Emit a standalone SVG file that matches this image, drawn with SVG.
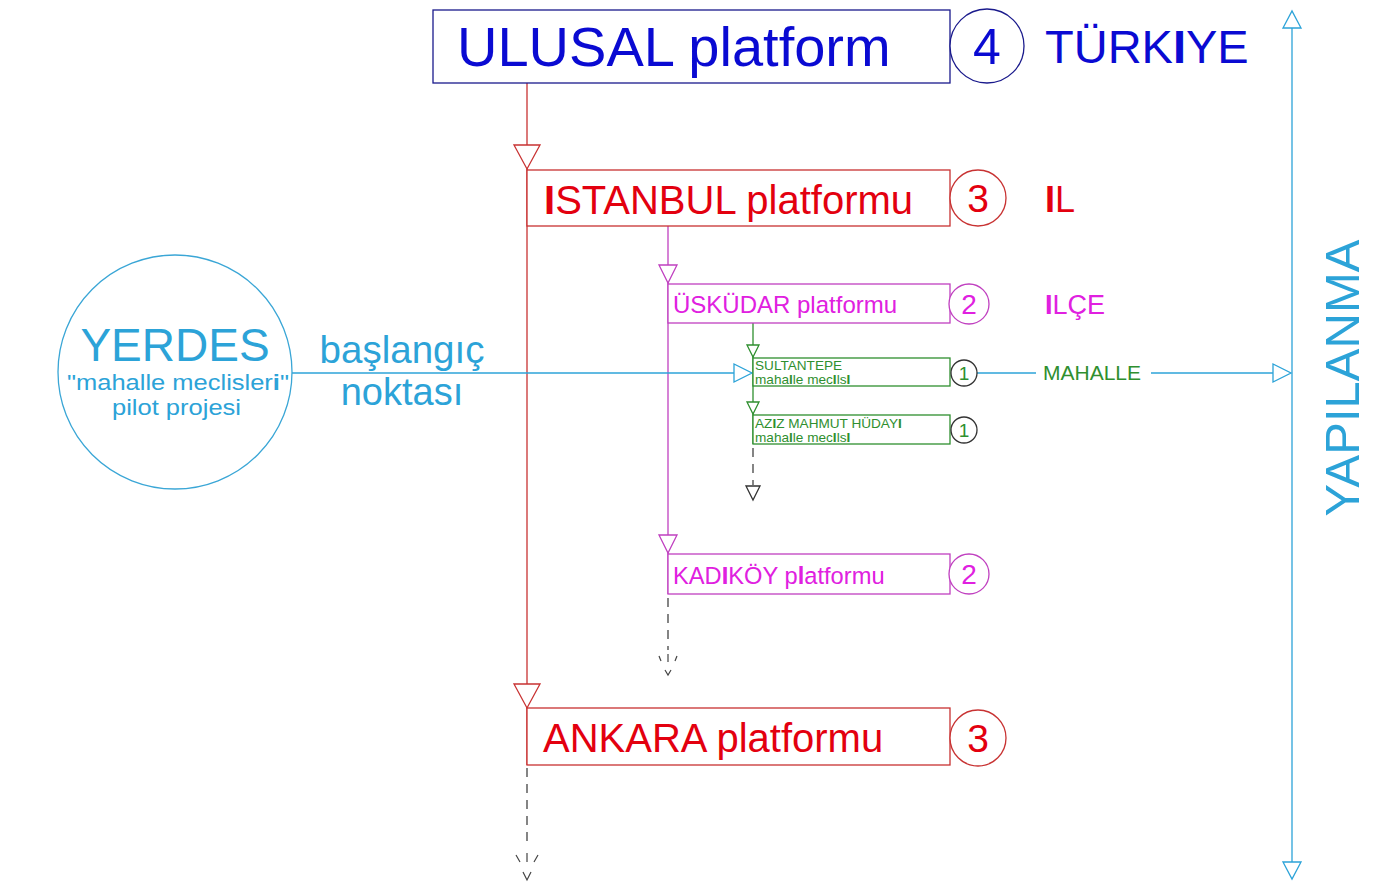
<svg xmlns="http://www.w3.org/2000/svg" width="1396" height="892" viewBox="0 0 1396 892">
<style>
text{font-family:"Liberation Sans",Arial,sans-serif}
.box{fill:#fff;stroke-width:1.3}
.cir{fill:#fff;stroke-width:1.3}
.blue{fill:#0a0ad2}
.red{fill:#e3000f}
.mag{fill:#e020e0}
.grn{fill:#2f8f2f}
.sky{fill:#2ca3d8}
.b{font-weight:bold}
.ln{fill:none;stroke-width:1.3}
.dash{fill:none;stroke:#444;stroke-width:1.3;stroke-dasharray:9 7}
.tri{fill:#fff;stroke-width:1.3}
</style>
<rect width="1396" height="892" fill="#fff"/>
<g id="connectors">
  <line class="ln" x1="527" y1="83" x2="527" y2="765" stroke="#c83232"/>
  <line class="dash" x1="527" y1="768" x2="527" y2="848"/>
  <path d="M516,855 L520,862 M538,855 L534,862 M527,853 L527,862" fill="none" stroke="#444" stroke-width="1.2"/>
  <path d="M523,872 L527,880 L531,872" fill="none" stroke="#444" stroke-width="1.2"/>
  <polygon class="tri" points="514,145 540,145 527,169" stroke="#c83232"/>
  <polygon class="tri" points="514,684 540,684 527,708" stroke="#c83232"/>
  <line class="ln" x1="668" y1="226" x2="668" y2="594" stroke="#c040c0"/>
  <line class="dash" x1="668" y1="598" x2="668" y2="650"/>
  <path d="M659,656 L661,661 M677,656 L675,661 M668,654 L668,662" fill="none" stroke="#444" stroke-width="1.2"/>
  <path d="M665,670 L668,675 L671,670" fill="none" stroke="#444" stroke-width="1.2"/>
  <polygon class="tri" points="659,265 677,265 668,283" stroke="#c040c0"/>
  <polygon class="tri" points="659,535 677,535 668,553" stroke="#c040c0"/>
  <line class="ln" x1="753" y1="323" x2="753" y2="444" stroke="#2f8f2f"/>
  <line class="dash" x1="753" y1="448" x2="753" y2="485"/>
  <polygon points="746,486 760,486 753,500" fill="#fff" stroke="#333" stroke-width="1.3"/>
  <polygon class="tri" points="747,345 759,345 753,357" stroke="#2f8f2f"/>
  <polygon class="tri" points="747,402 759,402 753,414" stroke="#2f8f2f"/>
  <line class="ln" x1="292" y1="373" x2="734" y2="373" stroke="#2ca3d8"/>
  <polygon class="tri" points="734,364 734,382 752,373" stroke="#2ca3d8"/>
  <line class="ln" x1="977" y1="373" x2="1036" y2="373" stroke="#2ca3d8"/>
  <line class="ln" x1="1151" y1="373" x2="1273" y2="373" stroke="#2ca3d8"/>
  <polygon class="tri" points="1273,364 1273,382 1291,373" stroke="#2ca3d8"/>
  <line class="ln" x1="1292" y1="12" x2="1292" y2="878" stroke="#2ca3d8"/>
  <polygon class="tri" points="1283,28 1301,28 1292,11" stroke="#2ca3d8"/>
  <polygon class="tri" points="1283,862 1301,862 1292,879" stroke="#2ca3d8"/>
</g>
<g id="ulusal">
  <rect class="box" x="433" y="10" width="517" height="73" stroke="#1a1a8c"/>
  <text class="blue" x="457" y="66" font-size="56">ULUSAL platform</text>
  <circle class="cir" cx="987" cy="46" r="37" stroke="#1a1a8c"/>
  <text class="blue" x="987" y="64" font-size="50" text-anchor="middle">4</text>
</g>
<g id="turkiye">
  <text class="blue" x="1045" y="63" font-size="47">TÜRK<tspan class="b">I</tspan>YE</text>
</g>
<g id="istanbul">
  <rect class="box" x="527" y="170" width="423" height="56" stroke="#c83232"/>
  <text class="red" x="544" y="214" font-size="40"><tspan class="b">I</tspan>STANBUL platformu</text>
  <circle class="cir" cx="978" cy="198" r="28" stroke="#c83232"/>
  <text class="red" x="978" y="212" font-size="39" text-anchor="middle">3</text>
</g>
<g id="il">
  <text class="red" x="1045" y="212" font-size="36"><tspan class="b">I</tspan>L</text>
</g>
<g id="uskudar">
  <rect class="box" x="668" y="284" width="282" height="39" stroke="#c040c0"/>
  <text class="mag" x="673" y="313" font-size="24">ÜSKÜDAR platformu</text>
  <circle class="cir" cx="969" cy="304" r="20" stroke="#c040c0"/>
  <text class="mag" x="969" y="314" font-size="28" text-anchor="middle">2</text>
</g>
<g id="ilce">
  <text class="mag" x="1045" y="314" font-size="27"><tspan class="b">I</tspan>LÇE</text>
</g>
<g id="sultantepe">
  <rect class="box" x="753" y="358" width="197" height="28" stroke="#2f8f2f"/>
  <text class="grn" x="755" y="370" font-size="13.6">SULTANTEPE</text>
  <text class="grn" x="755" y="384" font-size="13.6">maha<tspan class="b">l</tspan>le mec<tspan class="b">I</tspan>ls<tspan class="b">I</tspan></text>
  <circle class="cir" cx="964" cy="373" r="13" stroke="#333"/>
  <text class="grn" x="964" y="380" font-size="19" text-anchor="middle">1</text>
</g>
<g id="aziz">
  <rect class="box" x="753" y="415" width="197" height="29" stroke="#2f8f2f"/>
  <text class="grn" x="755" y="428" font-size="13.6">AZ<tspan class="b">I</tspan>Z MAHMUT HÜDAY<tspan class="b">I</tspan></text>
  <text class="grn" x="755" y="442" font-size="13.6">maha<tspan class="b">l</tspan>le mec<tspan class="b">I</tspan>ls<tspan class="b">I</tspan></text>
  <circle class="cir" cx="964" cy="430" r="13" stroke="#333"/>
  <text class="grn" x="964" y="437" font-size="19" text-anchor="middle">1</text>
</g>
<g id="mahalle">
  <text class="grn" x="1043" y="380" font-size="21">MAHALLE</text>
</g>
<g id="kadikoy">
  <rect class="box" x="668" y="554" width="282" height="40" stroke="#c040c0"/>
  <text class="mag" x="673" y="584" font-size="23.7">KAD<tspan class="b">I</tspan>KÖY p<tspan class="b">l</tspan>atformu</text>
  <circle class="cir" cx="969" cy="574" r="20" stroke="#c040c0"/>
  <text class="mag" x="969" y="584" font-size="28" text-anchor="middle">2</text>
</g>
<g id="ankara">
  <rect class="box" x="527" y="708" width="423" height="57" stroke="#c83232"/>
  <text class="red" x="543" y="752" font-size="40">ANKARA platformu</text>
  <circle class="cir" cx="978" cy="738" r="28" stroke="#c83232"/>
  <text class="red" x="978" y="752" font-size="39" text-anchor="middle">3</text>
</g>
<g id="yerdes">
  <circle cx="175" cy="372" r="117" fill="#fff" stroke="#3aa6d6" stroke-width="1.3"/>
  <text class="sky" x="175" y="361" font-size="46" text-anchor="middle">YERDES</text>
  <text class="sky" x="67" y="390" font-size="22" textLength="222" lengthAdjust="spacingAndGlyphs">"mahalle meclisler<tspan class="b">i</tspan>"</text>
  <text class="sky" x="112" y="415" font-size="22" textLength="129" lengthAdjust="spacingAndGlyphs">pilot projesi</text>
</g>
<g id="baslangic">
  <text class="sky" x="402" y="363" font-size="38.5" text-anchor="middle">başlangıç</text>
  <text class="sky" x="402" y="405" font-size="38" text-anchor="middle">noktası</text>
</g>
<g id="yapilanma">
  <text class="sky" transform="translate(1359,378) rotate(-90)" font-size="49" text-anchor="middle">YAPILANMA</text>
</g>
</svg>
